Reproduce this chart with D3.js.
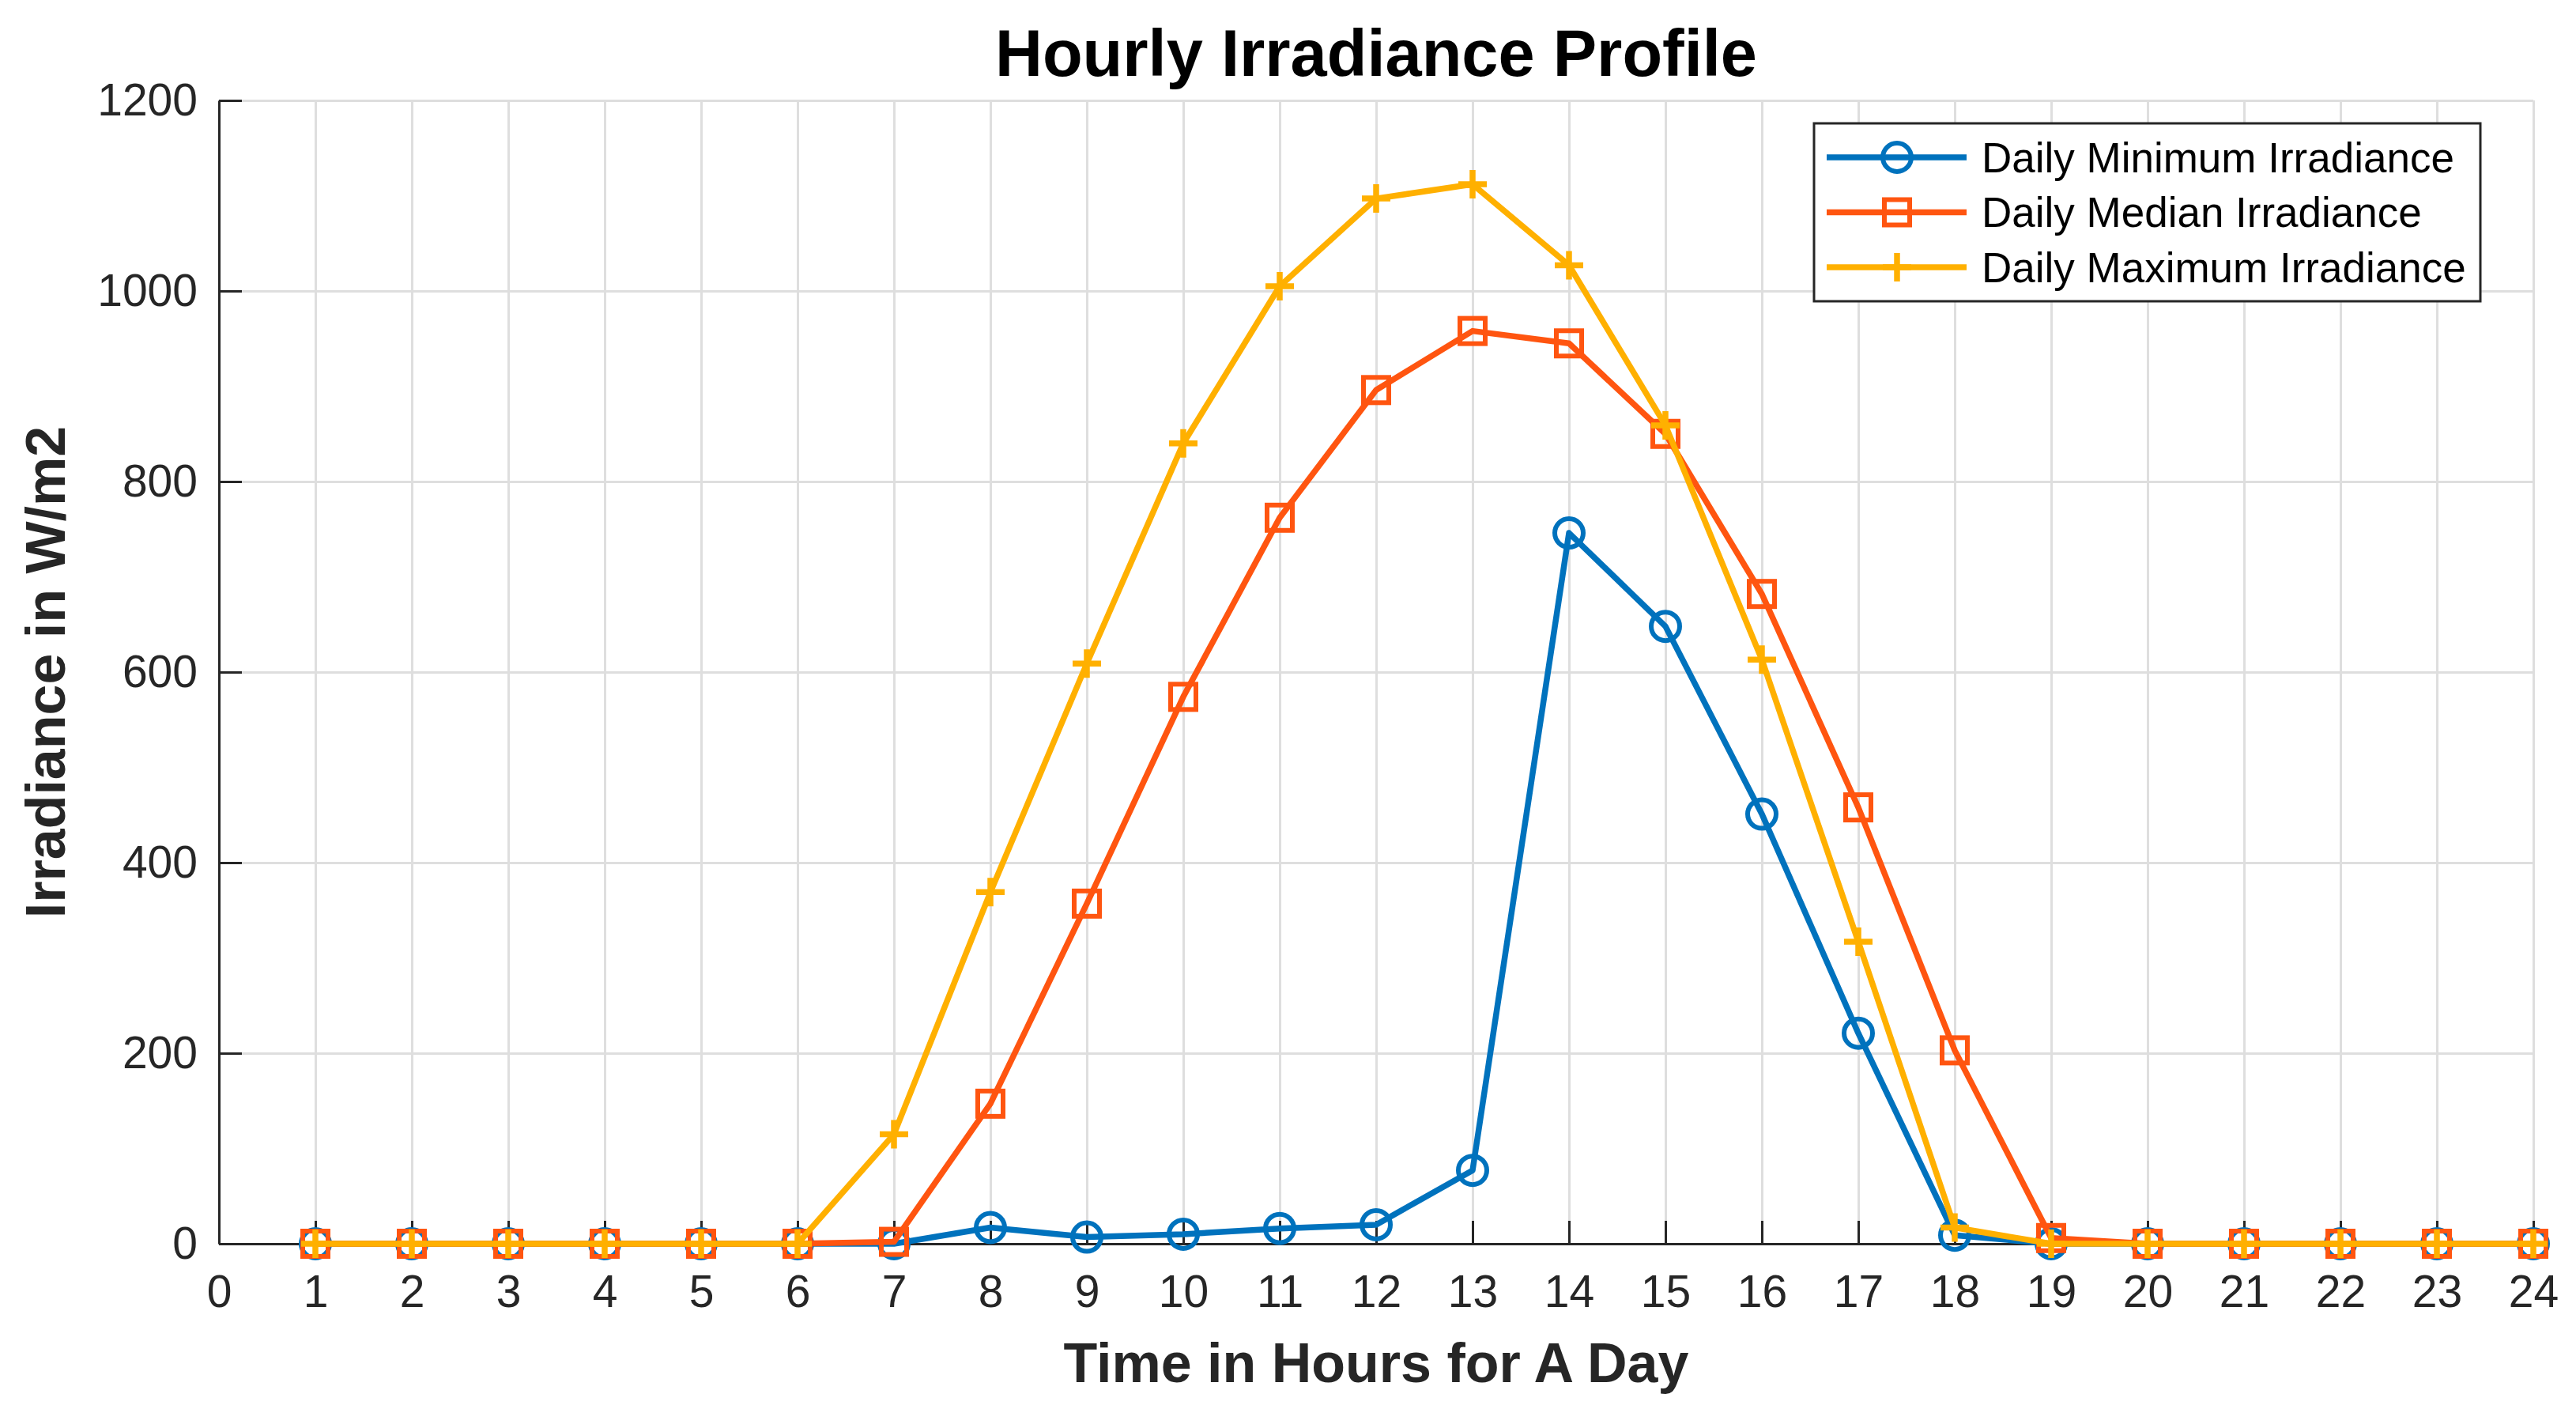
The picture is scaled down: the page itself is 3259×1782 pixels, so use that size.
<!DOCTYPE html>
<html>
<head>
<meta charset="utf-8">
<script src="https://cdn.jsdelivr.net/npm/d3@7"></script>
<style>
  body { margin: 0; background: #fff; }
  text { font-family: "Liberation Sans", Arial, sans-serif; }
</style>
</head>
<body>
<div id="chart"></div>
<script>
// hours of the day (x categories)
var hours = [1, 2, 3, 4, 5, 6, 7, 8, 9, 10, 11, 12, 13, 14, 15, 16, 17, 18, 19, 20, 21, 22, 23, 24]

// irradiance in W/m2
var minIrradiance = [0, 0, 0, 0, 0, 0, 0, 17, 7, 10, 16, 20, 77, 746, 648, 451, 221, 9, 0, 0, 0, 0, 0, 0]
var medianIrradiance = [0, 0, 0, 0, 0, 0, 2, 147, 357, 574, 762, 896, 958, 945, 850, 682, 458, 203, 6, 0, 0, 0, 0, 0]
var maxIrradiance = [0, 0, 0, 0, 0, 0, 115, 369, 609, 840, 1005, 1097, 1112, 1027, 859, 613, 317, 17, 0, 0, 0, 0, 0, 0]

var seriesNames = ["Daily Minimum Irradiance", "Daily Median Irradiance", "Daily Maximum Irradiance"]
var seriesColors = ["#0072BD", "#FF5510", "#FFB000"]
var seriesMarkers = ["circle", "square", "plus"]

var xTicks = d3.range(0, 25)
var yTicks = [0, 200, 400, 600, 800, 1000, 1200]

var width = 3259, height = 1782
var margin = { left: 277, right: 54, top: 127, bottom: 209 }
var plotW = width - margin.left - margin.right
var plotH = height - margin.top - margin.bottom

var svg = d3.select("#chart").append("svg")
    .attr("width", width)
    .attr("height", height)

var g = svg.append("g").attr("transform", "translate(" + margin.left + "," + margin.top + ")")

var x = d3.scaleLinear().domain([0, 24]).range([0, plotW])
var y = d3.scaleLinear().domain([0, 1200]).range([plotH, 0])

// grid
var gridX = g.append("g")
    .attr("transform", "translate(0," + plotH + ")")
    .call(d3.axisBottom(x).tickValues(xTicks).tickSize(-plotH).tickFormat(""))
var gridY = g.append("g")
    .call(d3.axisLeft(y).tickValues(yTicks).tickSize(-plotW).tickFormat(""))
;[gridX, gridY].forEach(function(gr) {
    gr.select(".domain").remove()
    gr.selectAll("line").attr("stroke", "#dedede").attr("stroke-width", 3)
})

// axes, ticks pointing inward
var xAxis = g.append("g")
    .attr("transform", "translate(0," + plotH + ")")
    .call(d3.axisBottom(x).tickValues(xTicks).tickFormat(d3.format("d")).tickSize(-29).tickSizeOuter(0).tickPadding(40))
var yAxis = g.append("g")
    .call(d3.axisLeft(y).tickValues(yTicks).tickFormat(d3.format("d")).tickSize(-29).tickSizeOuter(0).tickPadding(27))
;[xAxis, yAxis].forEach(function(ax) {
    ax.select(".domain").attr("stroke", "#262626").attr("stroke-width", 3)
    ax.selectAll(".tick line").attr("stroke", "#262626").attr("stroke-width", 3)
    ax.selectAll(".tick text")
        .attr("fill", "#262626")
        .style("font-size", "57px")
        .style("font-family", "'Liberation Sans', Arial, sans-serif")
})

var allSeries = [minIrradiance, medianIrradiance, maxIrradiance]

function drawMarker(sel, type, color) {
    if (type === "circle") {
        sel.append("circle").attr("r", 18)
            .attr("fill", "none").attr("stroke", color).attr("stroke-width", 6)
    } else if (type === "square") {
        sel.append("rect").attr("x", -16).attr("y", -16).attr("width", 32).attr("height", 32)
            .attr("fill", "none").attr("stroke", color).attr("stroke-width", 6)
    } else {
        sel.append("path").attr("d", "M-18,0H18M0,-18V18")
            .attr("fill", "none").attr("stroke", color).attr("stroke-width", 7.5)
    }
}

var line = d3.line()
    .x(function(d, i) { return x(hours[i]) })
    .y(function(d) { return y(d) })

allSeries.forEach(function(vals, s) {
    var sg = g.append("g")
    sg.append("path")
        .datum(vals)
        .attr("d", line)
        .attr("fill", "none")
        .attr("stroke", seriesColors[s])
        .attr("stroke-width", 7.5)
        .attr("stroke-linejoin", "round")
    sg.selectAll("g.mk")
        .data(vals)
        .enter()
        .append("g")
        .attr("class", "mk")
        .attr("transform", function(d, i) { return "translate(" + x(hours[i]) + "," + y(d) + ")" })
        .each(function() { drawMarker(d3.select(this), seriesMarkers[s], seriesColors[s]) })
})

// titles
svg.append("text")
    .attr("x", margin.left + plotW / 2).attr("y", 96)
    .attr("text-anchor", "middle")
    .style("font-size", "83px").style("font-weight", "bold")
    .attr("fill", "#000")
    .text("Hourly Irradiance Profile")

svg.append("text")
    .attr("x", margin.left + plotW / 2).attr("y", 1748)
    .attr("text-anchor", "middle")
    .style("font-size", "70px").style("font-weight", "bold")
    .attr("fill", "#262626")
    .text("Time in Hours for A Day")

svg.append("text")
    .attr("transform", "translate(82," + (margin.top + plotH / 2) + ") rotate(-90)")
    .attr("text-anchor", "middle")
    .style("font-size", "70px").style("font-weight", "bold")
    .attr("fill", "#262626")
    .text("Irradiance in W/m2")

// legend
var legend = svg.append("g").attr("transform", "translate(2295,156)")
legend.append("rect")
    .attr("width", 843).attr("height", 225)
    .attr("fill", "#fff").attr("stroke", "#262626").attr("stroke-width", 3)

seriesNames.forEach(function(name, s) {
    var ry = 43 + s * 69.5
    var row = legend.append("g").attr("transform", "translate(0," + ry + ")")
    row.append("line")
        .attr("x1", 16).attr("x2", 193)
        .attr("stroke", seriesColors[s]).attr("stroke-width", 7.5)
    drawMarker(row.append("g").attr("transform", "translate(105,0)"), seriesMarkers[s], seriesColors[s])
    row.append("text")
        .attr("x", 212).attr("dy", "0.35em")
        .style("font-size", "53px")
        .attr("fill", "#000")
        .text(name)
})
</script>
</body>
</html>
